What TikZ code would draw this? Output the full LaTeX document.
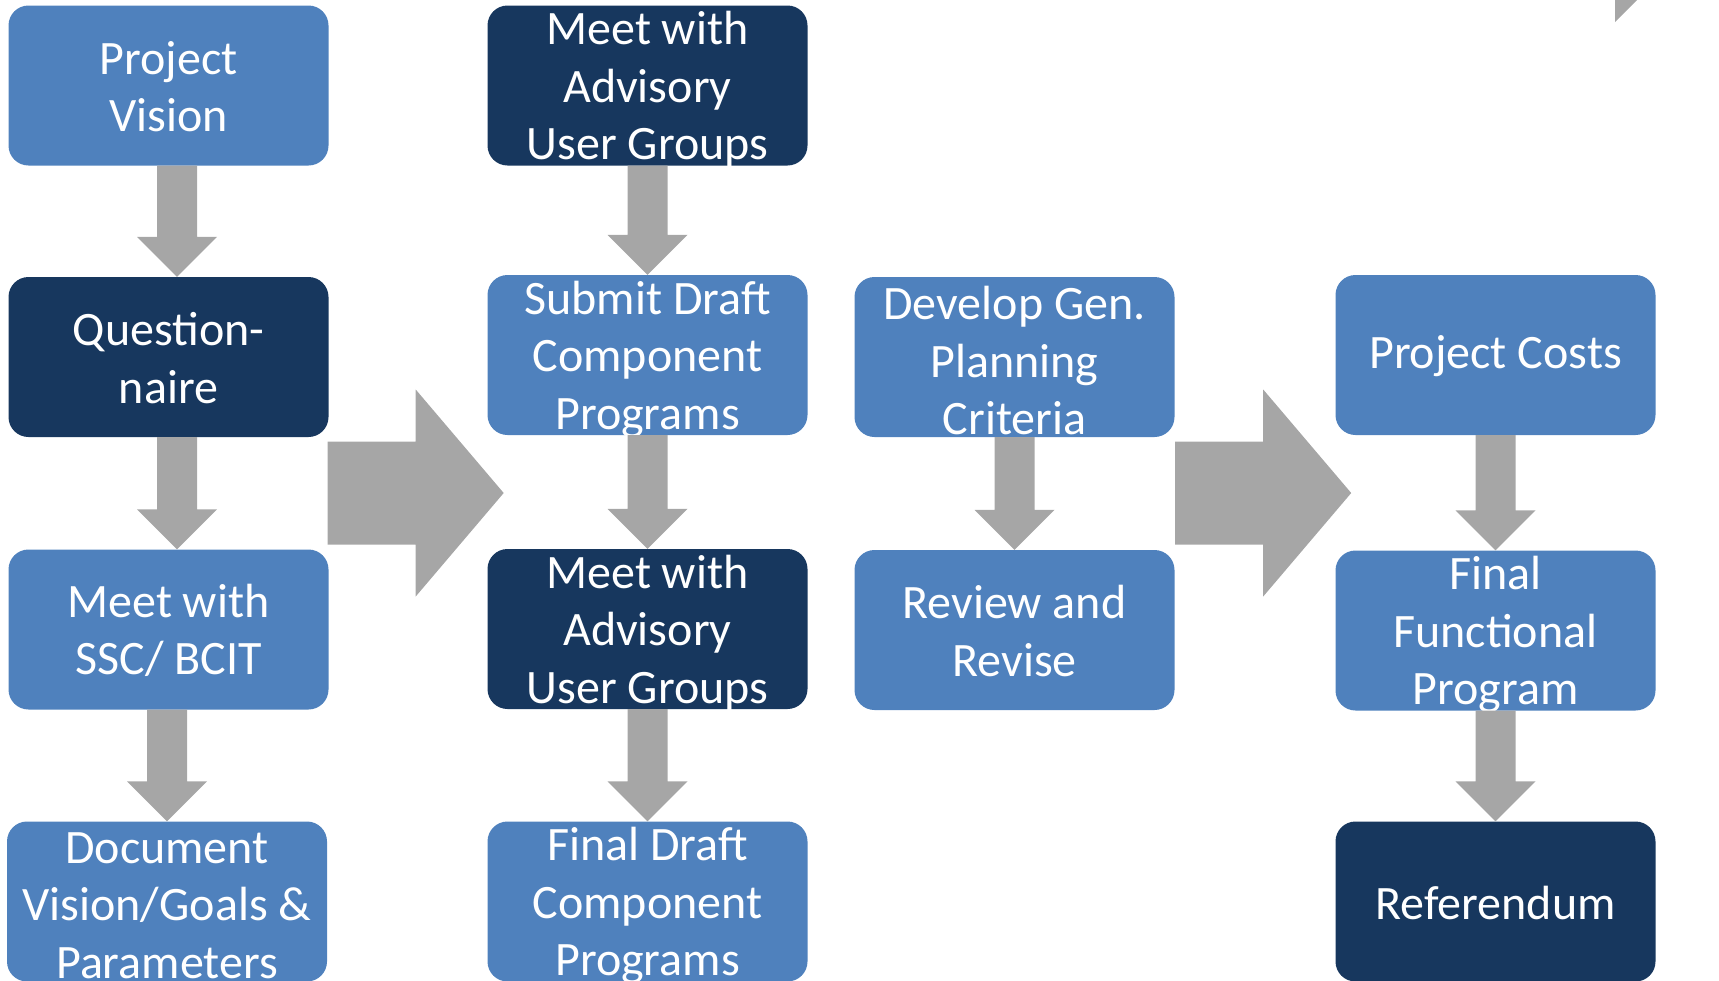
\documentclass[tikz,border=0pt]{standalone}
\usepackage{fontspec}
\setmainfont{Carlito}
\usetikzlibrary{calc}
\definecolor{lblue}{HTML}{4F81BD}
\definecolor{dblue}{HTML}{17375E}
\definecolor{agray}{HTML}{A6A6A6}
\tikzset{
  boxl/.style={fill=lblue, draw=none, rounded corners=20pt, minimum width=320pt, minimum height=160pt, inner sep=0pt},
  boxd/.style={boxl, fill=dblue},
  btext/.style={text=white, align=center, inner sep=0pt, yshift=-1pt, font=\fontsize{48}{57.5}\selectfont},
  tri/.style={yshift=-3pt},
  blk/.style={fill=agray, draw=none}
}
\newcommand\dnarrow[3]{%
  \fill[blk] let \p1=(#1.south), \p2=(#2.north) in
    ({\x1+(#3)*1pt-20pt},\y1) -- ({\x1+(#3)*1pt+20pt},\y1) --
    ({\x1+(#3)*1pt+20pt},\y2+40pt) -- ({\x1+(#3)*1pt+40pt},\y2+40pt) --
    ({\x1+(#3)*1pt},\y2) --
    ({\x1+(#3)*1pt-40pt},\y2+40pt) -- ({\x1+(#3)*1pt-20pt},\y2+40pt) -- cycle;}
\newcommand\bigarrow[1]{%
  \fill[blk] (#1) ++(0,-51.5) -- ++(88,0) -- ++(0,-52) -- ++(88,103.5)
    -- ++(-88,103.5) -- ++(0,-52) -- ++(-88,0) -- cycle;}
\begin{document}
\begin{tikzpicture}[x=1pt,y=-1pt]
\useasboundingbox (0,0) rectangle (1719,980);
\clip (0,0) rectangle (1719,980);
% column 1
\node[boxl] (pv) at (168.5,85.5) {};
\node[btext] (pvt) at (pv) {Project\\Vision};
\node[boxd] (q) at (168.5,357) {};
\node[btext] (qt) at (q) {Question-\\naire};
\node[boxl] (ssc) at (168.5,629.5) {};
\node[btext] (ssct) at (ssc) {Meet with\\SSC/ BCIT};
\node[boxl] (doc) at (167,901.5) {};
\node[btext,tri] (doct) at (doc) {Document\\Vision/Goals \&\\Parameters};
% column 2
\node[boxd] (m1) at (647.5,85.5) {};
\node[btext,tri] (m1t) at (m1) {Meet with\\Advisory\\User Groups};
\node[boxl] (sub) at (647.5,355) {};
\node[btext,tri] (subt) at (sub) {Submit Draft\\Component\\Programs};
\node[boxd] (m2) at (647.5,629) {};
\node[btext,tri] (m2t) at (m2) {Meet with\\Advisory\\User Groups};
\node[boxl] (fd) at (647.5,901.5) {};
\node[btext,tri] (fdt) at (fd) {Final Draft\\Component\\Programs};
% column 3
\node[boxl] (dev) at (1014.5,357) {};
\node[btext,tri] (devt) at (dev) {Develop Gen.\\Planning\\Criteria};
\node[boxl] (rev) at (1014.5,630) {};
\node[btext] (revt) at (rev) {Review and\\Revise};
% column 4
\node[boxl] (pc) at (1495.5,355) {};
\node[btext] (pct) at (pc) {Project Costs};
\node[boxl] (ffp) at (1495.5,630.5) {};
\node[btext,tri] (ffpt) at (ffp) {Final\\Functional\\Program};
\node[boxd] (ref) at (1495.5,901.5) {};
\node[btext] (reft) at (ref) {Referendum};
% down arrows
\dnarrow{pv}{q}{8.5}
\dnarrow{q}{ssc}{8.5}
\dnarrow{ssc}{doc}{-1.5}
\dnarrow{m1}{sub}{0}
\dnarrow{sub}{m2}{0}
\dnarrow{m2}{fd}{0}
\dnarrow{dev}{rev}{0}
\dnarrow{pc}{ffp}{0}
\dnarrow{ffp}{ref}{0}
% big arrows
\path (q.east) ++(-1,136) coordinate (a1);
\bigarrow{a1}
\path (dev.east) ++(0.5,136) coordinate (a2);
\bigarrow{a2}
% fragment at top right
\fill[blk] (1615,0) -- (1637,0) -- (1615,22) -- cycle;
\end{tikzpicture}
\end{document}
